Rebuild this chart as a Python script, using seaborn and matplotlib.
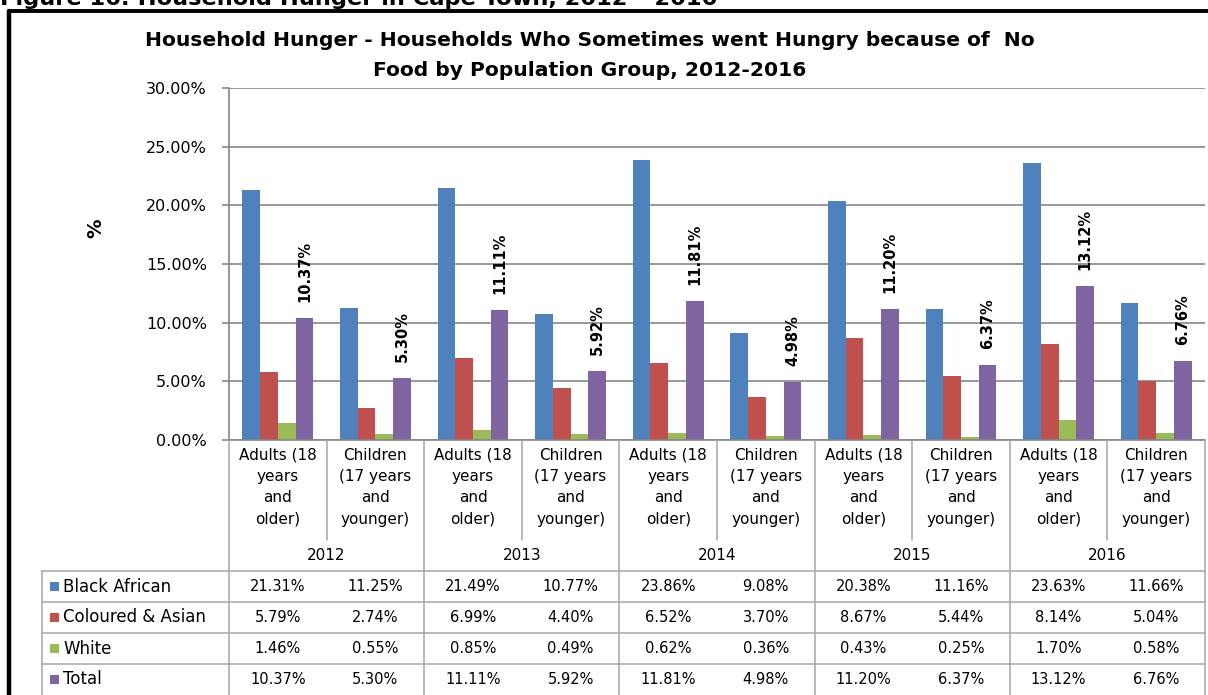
import numpy as np
import pandas as pd
import seaborn as sns
import matplotlib.pyplot as plt
from matplotlib.transforms import Affine2D, blended_transform_factory
from matplotlib.lines import Line2D
from matplotlib.patches import Rectangle
from matplotlib.ticker import FuncFormatter

# ---- data -----------------------------------------------------------------
years = ["2012", "2013", "2014", "2015", "2016"]
age_groups = ["Adults (18\nyears\nand\nolder)", "Children\n(17 years\nand\nyounger)"]
series = ["Black African", "Coloured & Asian", "White", "Total"]

black_african = [21.31, 11.25, 21.49, 10.77, 23.86, 9.08, 20.38, 11.16, 23.63, 11.66]
coloured_asian = [5.79, 2.74, 6.99, 4.40, 6.52, 3.70, 8.67, 5.44, 8.14, 5.04]
white = [1.46, 0.55, 0.85, 0.49, 0.62, 0.36, 0.43, 0.25, 1.70, 0.58]
total = [10.37, 5.30, 11.11, 5.92, 11.81, 4.98, 11.20, 6.37, 13.12, 6.76]

colors = ["#4F81BD", "#C0504D", "#9BBB59", "#8064A2"]

title_lines = ["Household Hunger - Households Who Sometimes went Hungry because of  No",
               "Food by Population Group, 2012-2016"]
figure_caption = "Figure 16: Household Hunger in Cape Town, 2012 \u2013 2016"

# ---- long table for seaborn ----------------------------------------------
cats = [f"{y}|{g}" for y in years for g in age_groups]
values = {"Black African": black_african, "Coloured & Asian": coloured_asian,
          "White": white, "Total": total}
rows = []
for s in series:
    for c, v in zip(cats, values[s]):
        rows.append({"cat": c, "series": s, "value": v})
df = pd.DataFrame(rows)

# ---- figure ----------------------------------------------------------------
sns.set_style("white")
plt.rcParams["font.family"] = ["DejaVu Sans"]
plt.rcParams["text.color"] = "black"
plt.rcParams["axes.labelcolor"] = "black"
plt.rcParams["xtick.color"] = "black"
plt.rcParams["ytick.color"] = "black"

W, H = 1208, 695
fig = plt.figure(figsize=(W / 100, H / 100), dpi=100)
# pixel transform (origin top-left)
pix = Affine2D().scale(1 / W, -1 / H).translate(0, 1) + fig.transFigure

ax_l, ax_r, ax_t, ax_b = 229, 1205, 88, 440
ax = fig.add_axes([ax_l / W, 1 - ax_b / H, (ax_r - ax_l) / W, (ax_b - ax_t) / H])

sns.barplot(data=df, x="cat", y="value", hue="series", order=cats,
            hue_order=series, palette=colors, saturation=1, width=0.727,
            linewidth=0, legend=False, ax=ax)

ax.set_xlim(-0.5, len(cats) - 0.5)
ax.set_ylim(0, 30)
ax.set_yticks(np.arange(0, 30.1, 5))
ax.yaxis.set_major_formatter(FuncFormatter(lambda v, p: f"{v:.2f}%"))
ax.tick_params(axis="y", labelsize=11.5, length=5, width=1.2, color="#868686",
               labelcolor="black", left=True, pad=11)
ax.tick_params(axis="x", bottom=False, labelbottom=False)
ax.set_xlabel("")
ax.set_ylabel("")
ax.yaxis.grid(True, color="#868686", linewidth=1.2)
ax.set_axisbelow(True)
for side in ["top", "right"]:
    ax.spines[side].set_visible(False)
for side in ["left", "bottom"]:
    ax.spines[side].set_color("#868686")
    ax.spines[side].set_linewidth(1.2)

# value labels on the Total series
tot_container = ax.containers[3]
ax.bar_label(tot_container, labels=[f"{v:.2f}%" for v in total], rotation=90,
             padding=11.5, fontsize=10.5, fontweight="bold", color="black")

# ---- titles ----------------------------------------------------------------
fig.text(590 / W, 1 - 40 / H, title_lines[0], ha="center", va="center",
         fontsize=14.6, fontweight="bold")
fig.text(590 / W, 1 - 70 / H, title_lines[1], ha="center", va="center",
         fontsize=14.6, fontweight="bold")
fig.text(96 / W, 1 - 228 / H, "%", rotation=90, ha="center", va="center",
         fontsize=14, fontweight="bold")
fig.text(0, 5, figure_caption, transform=pix, ha="left", va="baseline",
         fontsize=16.2, fontweight="bold")

# outer frame
fig.add_artist(Line2D([9, W + 5], [10.5, 10.5], transform=pix, color="black", lw=2.8))
fig.add_artist(Line2D([9, 9], [10.5, H + 5], transform=pix, color="black", lw=3.2))

# ---- data table under the axis ---------------------------------------------
tx = blended_transform_factory(ax.transData, pix)
grid_c = "#A6A6A6"
lw_t = 1.1

row_edges = [571, 602, 633, 664, 695]
n = len(cats)

# vertical separators
for i in range(n + 1):
    b = i - 0.5
    y_end = H + 5 if i % 2 == 0 else 540
    fig.add_artist(Line2D([b, b], [ax_b, y_end], transform=tx, color=grid_c, lw=lw_t))
fig.add_artist(Line2D([42, 42], [row_edges[0], H + 5], transform=pix, color=grid_c, lw=lw_t))

# horizontal separators
for y in row_edges[:-1]:
    fig.add_artist(Line2D([42, ax_r], [y, y], transform=pix, color=grid_c, lw=lw_t))

# category labels
for i, c in enumerate(cats):
    fig.text(i, 448, c.split("|")[1], transform=tx, ha="center", va="top",
             fontsize=11, linespacing=1.52, multialignment="center")

# year labels
for k, y in enumerate(years):
    fig.text(2 * k + 0.5, 555, y, transform=tx, ha="center", va="center", fontsize=11)

# series rows
for r, s in enumerate(series):
    yc = (row_edges[r] + row_edges[r + 1]) / 2
    fig.add_artist(Rectangle((50, yc - 4.5), 9, 9, transform=pix,
                             facecolor=colors[r], edgecolor="none"))
    fig.text(63, yc, s, transform=pix, ha="left", va="center", fontsize=12)
    for i, v in enumerate(values[s]):
        fig.text(i, yc, f"{v:.2f}%", transform=tx, ha="center", va="center",
                 fontsize=10.5)

fig.savefig("out.png", dpi=100)
